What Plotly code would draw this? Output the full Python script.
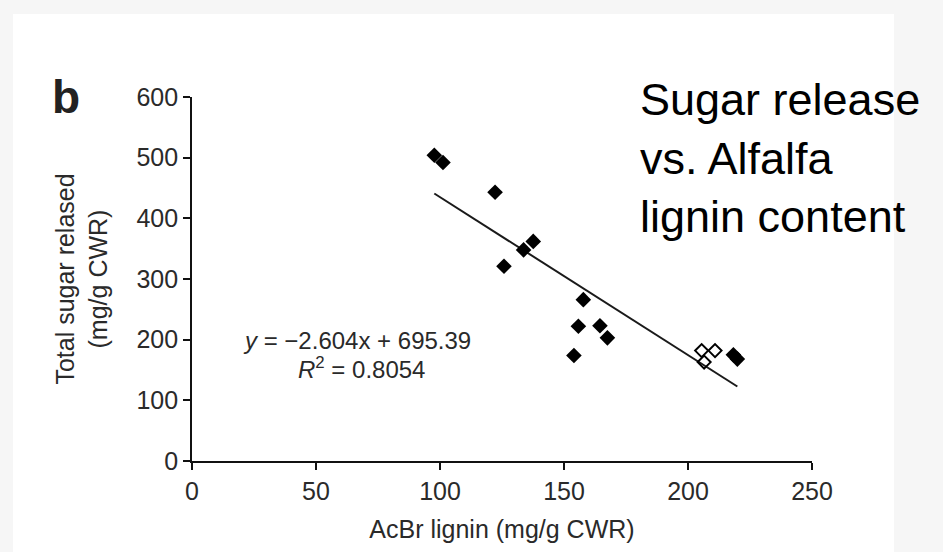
import plotly.graph_objects as go

# ---- data ----
filled_x = [97.7, 101.2, 122.2, 125.8, 133.7, 137.6, 154.0, 155.8, 157.8, 164.5, 167.5, 218.3, 219.9]
filled_y = [504, 492, 443, 321, 348, 362, 174, 222, 266, 223, 203, 175, 168]
open_x = [205.5, 210.9, 206.5]
open_y = [182, 182, 163]

slope = -2.604
intercept = 695.39
r_squared = 0.8054

x_ticks = [0, 50, 100, 150, 200, 250]
y_ticks = [0, 100, 200, 300, 400, 500, 600]

x_title = "AcBr lignin (mg/g CWR)"
y_title = "Total sugar relased<br>(mg/g CWR)"
panel_label = "b"
side_text = "Sugar release<br>vs. Alfalfa<br>lignin content"

# ---- figure ----
all_x = filled_x + open_x
x_min, x_max = min(all_x), max(all_x)
fit_x = [x_min, x_max]
fit_y = [slope * v + intercept for v in fit_x]

FONT = "Liberation Sans, Arial, Helvetica, sans-serif"
TXT = "#2a2a2a"

fig = go.Figure()
fig.add_trace(go.Scatter(x=fit_x, y=fit_y, mode="lines",
                         line=dict(color="#1a1a1a", width=2), showlegend=False))
fig.add_trace(go.Scatter(x=filled_x, y=filled_y, mode="markers",
                         marker=dict(symbol="diamond", size=12, color="black"),
                         showlegend=False))
fig.add_trace(go.Scatter(x=open_x, y=open_y, mode="markers",
                         marker=dict(symbol="diamond-open", size=10, color="black",
                                     line=dict(width=2)),
                         showlegend=False))

L, R, T, B = 192, 131, 97, 91
W, H = 943, 552
pw, ph = W - L - R, H - T - B


def px_x(p):
    return (p - L) / pw


def px_y(p):
    return (H - B - p) / ph


fig.update_layout(
    width=W, height=H,
    margin=dict(l=L, r=R, t=T, b=B, pad=0),
    paper_bgcolor="#f6f6f6",
    plot_bgcolor="white",
    font=dict(family=FONT, color=TXT, size=25),
    xaxis=dict(range=[0, 250], tickvals=x_ticks, showgrid=False, zeroline=False,
               showline=True, linecolor="#111", linewidth=1.6,
               ticks="outside", ticklen=7, tickwidth=1.6, tickcolor="#111",
               tickfont=dict(size=25, color=TXT, family=FONT),
               title=dict(text=x_title, standoff=17,
                          font=dict(size=25, color=TXT, family=FONT))),
    yaxis=dict(range=[0, 600], tickvals=y_ticks, showgrid=False, zeroline=False,
               showline=True, linecolor="#111", linewidth=1.6,
               ticks="outside", ticklen=7, tickwidth=1.6, tickcolor="#111",
               tickfont=dict(size=25, color=TXT, family=FONT),
               title=dict(text=y_title, standoff=22,
                          font=dict(size=25, color=TXT, family=FONT))),
    shapes=[dict(type="rect", xref="paper", yref="paper", layer="below",
                 x0=px_x(13), x1=px_x(894), y0=px_y(H + 5), y1=px_y(14),
                 fillcolor="white", line=dict(width=0))],
)

annotations = [
    dict(text="<b>%s</b>" % panel_label, xref="paper", yref="paper", x=px_x(50), y=px_y(97),
         xanchor="left", yanchor="middle", showarrow=False,
         font=dict(size=46, color="#222")),
    dict(text=side_text, xref="paper", yref="paper", x=px_x(638), y=px_y(158),
         xanchor="left", yanchor="middle", align="left", showarrow=False,
         font=dict(size=45, color="black")),
    dict(text="<i>y</i> = \u2212%.3fx + %.2f" % (abs(slope), intercept),
         xref="paper", yref="paper", x=px_x(357), y=px_y(340),
         xanchor="center", yanchor="middle", showarrow=False,
         font=dict(size=24, color=TXT)),
    dict(text="<i>R</i><sup>2</sup> = %.4f" % r_squared,
         xref="paper", yref="paper", x=px_x(361), y=px_y(368),
         xanchor="center", yanchor="middle", showarrow=False,
         font=dict(size=24, color=TXT)),
]
fig.update_layout(annotations=annotations)

fig.write_html("out.html")
